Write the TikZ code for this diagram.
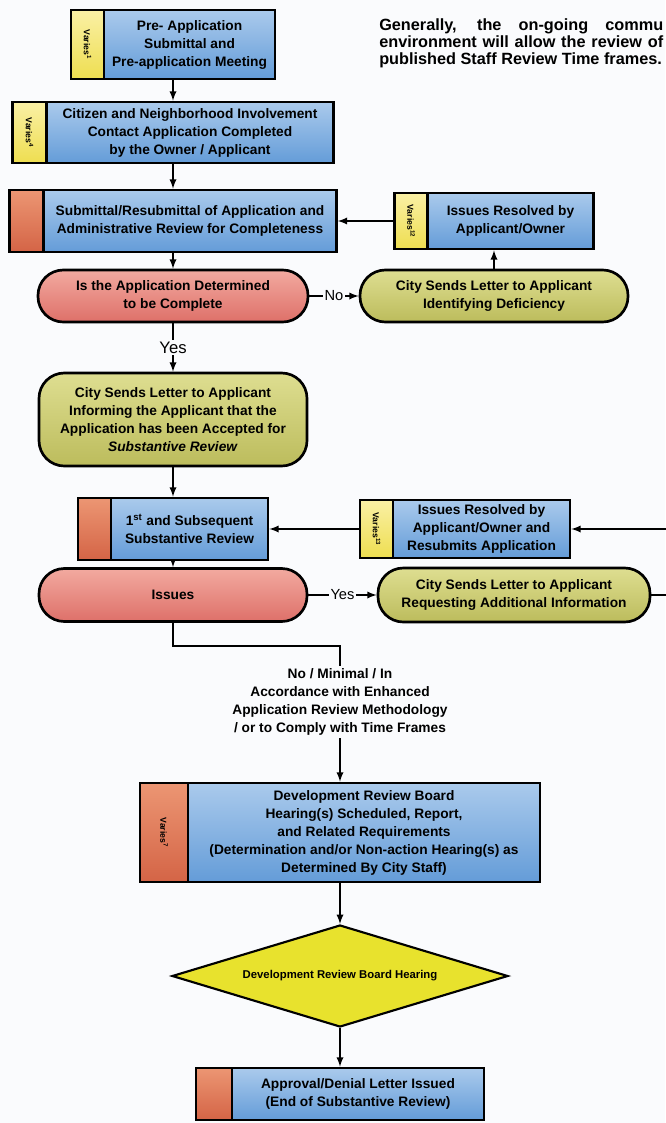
\documentclass[tikz,border=0pt]{standalone}
\usepackage{fontspec}
\usepackage{graphicx}
\setmainfont{Liberation Sans}
\usetikzlibrary{positioning,fit,shapes.geometric}
\pgfdeclarelayer{bglayer}
\pgfdeclarelayer{edgelayer}
\pgfdeclarelayer{nodelayer}
\pgfsetlayers{bglayer,edgelayer,nodelayer,main}
\definecolor{bg}{RGB}{250,251,253}
\definecolor{boxblue}{RGB}{100,156,216}
\definecolor{boxbluelt}{RGB}{170,202,236}
\definecolor{tabred}{RGB}{212,100,70}
\definecolor{tabredlt}{RGB}{236,150,115}
\definecolor{tabyel}{RGB}{238,222,80}
\definecolor{tabyellt}{RGB}{250,240,165}
\definecolor{pillred}{RGB}{222,112,105}
\definecolor{pillredlt}{RGB}{242,170,160}
\definecolor{pillolive}{RGB}{188,188,92}
\definecolor{pillolivelt}{RGB}{222,222,145}
\definecolor{diayel}{RGB}{232,226,45}
\newcommand{\boxfont}{\fontsize{10.3}{13.5}\selectfont\bfseries}
\newcommand{\tabfont}{\fontsize{6.5}{7}\selectfont\bfseries}
\newcommand{\diafont}{\fontsize{8.5}{10}\selectfont\bfseries}
\newcommand{\parfont}{\fontsize{12.2}{13.1}\selectfont\bfseries}
\tikzstyle{none}=[inner sep=0pt]
\tikzstyle{stepbox}=[rectangle,draw=black,line width=2pt,outer sep=0pt,inner sep=1pt,top color=boxbluelt,bottom color=boxblue,align=center,font=\boxfont]
\tikzstyle{redtab}=[rectangle,draw=black,line width=2pt,outer sep=0pt,inner sep=0pt,top color=tabredlt,bottom color=tabred,font=\tabfont]
\tikzstyle{yeltab}=[rectangle,draw=black,line width=2pt,outer sep=0pt,inner sep=0pt,top color=tabyellt,bottom color=tabyel,font=\tabfont]
\tikzstyle{frame}=[inner sep=0pt,outer sep=1pt]
\tikzstyle{redpill}=[rectangle,rounded corners=19pt,draw=black,line width=2pt,top color=pillredlt,bottom color=pillred,align=center,font=\boxfont]
\tikzstyle{olivepill}=[rectangle,rounded corners=19pt,draw=black,line width=2pt,top color=pillolivelt,bottom color=pillolive,align=center,font=\boxfont]
\tikzstyle{decision}=[diamond,aspect=3.3,draw=black,line width=1.6pt,fill=diayel,inner sep=0pt,font=\diafont]
\tikzstyle{note}=[align=center,inner sep=2pt,font=\boxfont]
\tikzstyle{flow}=[line width=1.4pt,-latex]
\tikzstyle{lbl}=[fill=bg,inner sep=1.5pt,font=\fontsize{11}{12}\selectfont]

\begin{document}
\begin{tikzpicture}[x=0.75pt,y=-0.75pt]
	\useasboundingbox (0,0) rectangle (665,1123);
	\begin{pgfonlayer}{bglayer}
		\fill[bg] (0,0) rectangle (665,1123);
	\end{pgfonlayer}
	\begin{pgfonlayer}{nodelayer}
		% left column
		\node [style=stepbox, minimum width=128.25pt, minimum height=51.75pt] (pre) at (189.5, 44.5) {Pre- Application\\Submittal and\\Pre-application Meeting};
		\node [style=yeltab, minimum width=24.75pt, minimum height=51.75pt, left=0pt of pre] (pretab) {\rotatebox{-90}{Varies\textsuperscript{1}}};
		\node [style=frame, fit=(pretab)(pre)] (preF) {};
		\node [style=stepbox, minimum width=215.25pt, minimum height=45.75pt] (cit) at (190, 132.5) {Citizen and Neighborhood Involvement\\Contact Application Completed\\by the Owner / Applicant};
		\node [style=yeltab, minimum width=25.5pt, minimum height=45.75pt, left=0pt of cit] (cittab) {\rotatebox{-90}{Varies\textsuperscript{4}}};
		\node [style=frame, fit=(cittab)(cit)] (citF) {};
		\node [style=stepbox, minimum width=219.75pt, minimum height=46.5pt] (sub) at (190, 221) {Submittal/Resubmittal of Application and\\Administrative Review for Completeness};
		\node [style=redtab, minimum width=25.5pt, minimum height=46.5pt, left=0pt of sub] (subtab) {};
		\node [style=frame, fit=(subtab)(sub)] (subF) {};
		\node [style=redpill, minimum width=202.5pt, minimum height=39pt] (comp) at (173, 296) {Is the Application Determined\\to be Complete};
		\node [style=olivepill, minimum width=201pt, minimum height=69.75pt] (acc) at (173, 419.5) {City Sends Letter to Applicant\\Informing the Applicant that the\\Application has been Accepted for\\\textit{Substantive Review}};
		\node [style=stepbox, minimum width=117.75pt, minimum height=46.5pt] (subst) at (189.5, 529) {1\textsuperscript{st} and Subsequent\\Substantive Review};
		\node [style=redtab, minimum width=24.75pt, minimum height=46.5pt, left=0pt of subst] (substtab) {};
		\node [style=frame, fit=(substtab)(subst)] (substF) {};
		\node [style=redpill, minimum width=201pt, minimum height=39.75pt] (iss) at (173, 595) {Issues};
		% right column
		\node [style=stepbox, minimum width=124.5pt, minimum height=42pt] (res) at (510.5, 221) {Issues Resolved by\\Applicant/Owner};
		\node [style=yeltab, minimum width=24.75pt, minimum height=42pt, left=0pt of res] (restab) {\rotatebox{-90}{Varies\textsuperscript{12}}};
		\node [style=frame, fit=(restab)(res)] (resF) {};
		\node [style=olivepill, minimum width=201pt, minimum height=39pt] (def) at (494, 296) {City Sends Letter to Applicant\\Identifying Deficiency};
		\node [style=stepbox, minimum width=132.75pt, minimum height=43.5pt] (res2) at (481.5, 529) {Issues Resolved by\\Applicant/Owner and\\Resubmits Application};
		\node [style=yeltab, minimum width=24.75pt, minimum height=43.5pt, left=0pt of res2] (res2tab) {\rotatebox{-90}{Varies\textsuperscript{13}}};
		\node [style=frame, fit=(res2tab)(res2)] (res2F) {};
		\node [style=olivepill, minimum width=204pt, minimum height=40.5pt] (req) at (514, 595) {City Sends Letter to Applicant\\Requesting Additional Information};
		% lower part
		\coordinate (bend) at (340, 646);
		\node [style=note] (cond) at (340, 702) {No / Minimal / In\\Accordance with Enhanced\\Application Review Methodology\\/ or to Comply with Time Frames};
		\node [style=stepbox, minimum width=264pt, minimum height=74.25pt] (drb) at (364, 832.5) {Development Review Board\\Hearing(s) Scheduled, Report,\\and Related Requirements\\(Determination and/or Non-action Hearing(s) as\\Determined By City Staff)};
		\node [style=redtab, minimum width=36pt, minimum height=74.25pt, left=0pt of drb] (drbtab) {\rotatebox{-90}{Varies\textsuperscript{7}}};
		\node [style=frame, fit=(drbtab)(drb)] (drbF) {};
		\node [style=decision, minimum width=252pt, minimum height=76.5pt] (dia) at (340, 976) {Development Review Board Hearing};
		\node [style=stepbox, minimum width=189pt, minimum height=39pt] (app) at (358, 1094) {Approval/Denial Letter Issued\\(End of Substantive Review)};
		\node [style=redtab, minimum width=27pt, minimum height=39pt, left=0pt of app] (apptab) {};
		\node [style=frame, fit=(apptab)(app)] (appF) {};
		% text at top right
		\node [style=none, anchor=north west, align=left, font=\parfont] (para) at (379, 18) {\makebox[213pt][s]{Generally, the on-going commu}\\\makebox[213pt][s]{environment will allow the review of}\\published Staff Review Time frames.};
	\end{pgfonlayer}
	\begin{pgfonlayer}{edgelayer}
		\draw [style=flow] (preF) to (citF);
		\draw [style=flow] (citF) to (subF);
		\draw [style=flow] (resF) to (subF);
		\draw [style=flow] (subF) to (comp);
		\draw [style=flow] (comp) to node [style=lbl] {No} (def);
		\draw [style=flow] (def) to (resF);
		\draw [style=flow] (comp) to node [style=lbl, font=\fontsize{12.5}{13}\selectfont] {Yes} (acc);
		\draw [style=flow] (acc) to (substF);
		\draw [style=flow] (res2F) to (substF);
		\draw [style=flow] (substF) to (iss);
		\draw [style=flow] (iss) to node [style=lbl] {Yes} (req);
		\draw [style=flow] (req.east) -- ++(40, 0) |- (res2F.east);
		\draw [line width=1.4pt] (iss.south) |- (bend) -- (cond);
		\draw [style=flow] (cond) to (drbF);
		\draw [style=flow] (drbF) to (dia);
		\draw [style=flow] (dia) to (appF);
	\end{pgfonlayer}
\end{tikzpicture}
\end{document}
